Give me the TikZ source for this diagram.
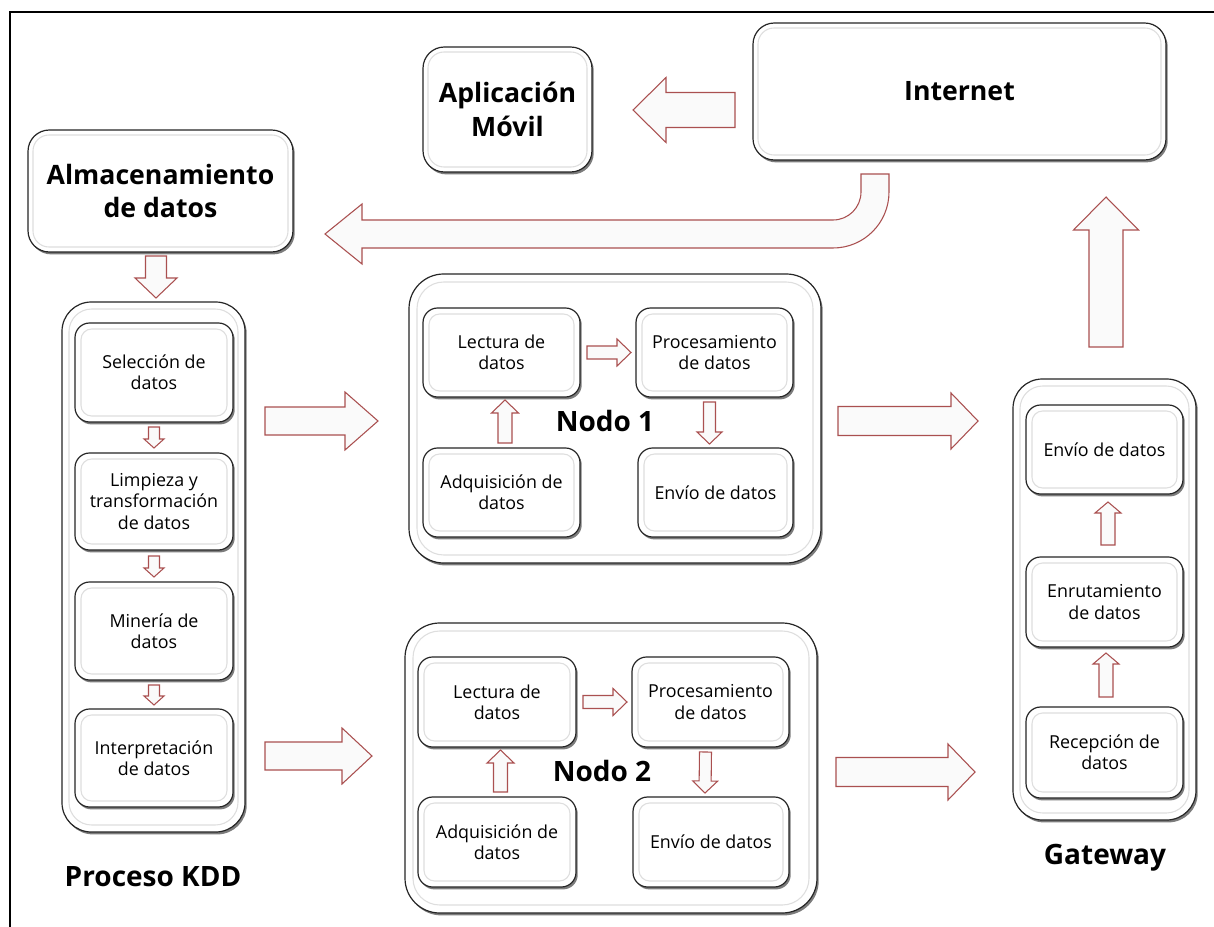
\documentclass[tikz,border=0pt]{standalone}
\usepackage{fontspec}
\setmainfont{Open Sans}
\usetikzlibrary{calc,shadows}
\definecolor{arrred}{RGB}{170,80,80}
\tikzset{
  bx/.style={draw=black!85, line width=0.9pt, fill=white, rounded corners=#1,
    inner sep=0pt, outer sep=0pt, align=center,
    drop shadow={shadow xshift=1.3pt, shadow yshift=-1.8pt, fill=black!60, opacity=0.85}},
  bx/.default=11pt,
  txt/.style={font=\fontsize{13.4}{16}\selectfont},
  ttl/.style={font=\bfseries\fontsize{20}{25}\selectfont},
  lbl/.style={font=\bfseries\fontsize{21}{25}\selectfont, inner sep=0pt},
  blk/.style={draw=arrred, line width=0.8pt, fill=black!2, line join=miter},
  inl/.style={draw=black!13, line width=0.8pt},
  frame/.style={draw=black, line width=1.5pt}
}
% box: [style]{name}{x1}{y1}{x2}{y2}{text}
\newcommand{\bx}[7][]{\node[#1, minimum width={(#5-#3)*0.75pt}, minimum height={(#6-#4)*0.75pt}] (#2) at ({(#3+#5)/2},{(#4+#6)/2}) {#7};}
% inner light line: {name}{inset}{radius}
\newcommand{\inline}[3]{\draw[inl, rounded corners=#3] ($(#1.north west)+(#2,#2)$) rectangle ($(#1.south east)+(-#2,-#2)$);}
% block arrow: {from}{to}{shaft half}{head half}{head length}
\newcommand{\barr}[5]{%
  \path let \p1=#1, \p2=#2 in \pgfextra{%
    \pgfmathsetmacro\bang{atan2(\y2-\y1,\x2-\x1)}%
    \pgfmathsetmacro\blen{veclen(\x2-\x1,\y2-\y1)}%
    \global\let\gbang\bang\global\let\gblen\blen};
  \draw[blk, shift={#1}, rotate=\gbang]
    (0pt,{-0.75pt*#3}) -- ({\gblen pt-0.75pt*#5},{-0.75pt*#3}) -- ({\gblen pt-0.75pt*#5},{-0.75pt*#4})
    -- ({\gblen pt},0pt) -- ({\gblen pt-0.75pt*#5},{0.75pt*#4}) -- ({\gblen pt-0.75pt*#5},{0.75pt*#3})
    -- (0pt,{0.75pt*#3}) -- cycle;}
\begin{document}
\begin{tikzpicture}[x=0.75pt,y=-0.75pt]
\useasboundingbox (0,0) rectangle (1214,927);
\fill[white] (0,0) rectangle (1214,927);
\draw[frame] (10,927) -- (10,12) -- (1214,12);

% top row
\bx[bx=16pt,ttl]{app}{423}{47}{592}{172}{Aplicación\\Móvil}
\inline{app}{5}{12pt}
\bx[bx=16pt,ttl]{inet}{753}{23}{1166}{160}{Internet}
\inline{inet}{5}{12pt}
\bx[bx=16pt,ttl]{alm}{28}{130}{293}{252}{Almacenamiento\\de datos}
\inline{alm}{5}{12pt}

% KDD
\bx[bx=22pt]{kdd}{62}{302}{245}{832}{}
\inline{kdd}{7}{17pt}
\bx[bx,txt]{sel}{75}{323}{233}{422}{Selección de\\datos}
\bx[bx,txt]{limp}{75}{453}{233}{550}{Limpieza y\\transformación\\de datos}
\bx[bx,txt]{min}{75}{582}{233}{680}{Minería de\\datos}
\bx[bx,txt]{interp}{75}{709}{233}{807}{Interpretación\\de datos}
\foreach \n in {sel,limp,min,interp}{\inline{\n}{6}{8pt}}
\node[lbl] (kddl) at (153,877) {Proceso KDD};

% Nodo 1
\bx[bx=26pt]{n1}{409}{274}{821}{563}{}
\inline{n1}{8}{20pt}
\bx[bx,txt]{la}{423}{308}{580}{397}{Lectura de\\datos}
\bx[bx,txt]{pa}{636}{308}{793}{397}{Procesamiento\\de datos}
\bx[bx,txt]{aa}{423}{448}{580}{537}{Adquisición de\\datos}
\bx[bx,txt]{ea}{638}{448}{793}{537}{Envío de datos}
\foreach \n in {la,pa,aa,ea}{\inline{\n}{6}{8pt}}
\node[lbl] (n1l) at (605,421) {Nodo 1};

% Nodo 2
\bx[bx=26pt]{n2}{405}{623}{817}{913}{}
\inline{n2}{8}{20pt}
\bx[bx,txt]{lb}{418}{657}{576}{747}{Lectura de\\datos}
\bx[bx,txt]{pb}{632}{657}{789}{747}{Procesamiento\\de datos}
\bx[bx,txt]{ab}{418}{797}{576}{887}{Adquisición de\\datos}
\bx[bx,txt]{eb}{633}{797}{789}{887}{Envío de datos}
\foreach \n in {lb,pb,ab,eb}{\inline{\n}{6}{8pt}}
\node[lbl] (n2l) at (602,771) {Nodo 2};

% Gateway
\bx[bx=22pt]{gw}{1013}{379}{1196}{820}{}
\inline{gw}{7}{17pt}
\bx[bx,txt]{ge}{1026}{405}{1183}{494}{Envío de datos}
\bx[bx,txt]{gr}{1026}{557}{1183}{647}{Enrutamiento\\de datos}
\bx[bx,txt]{gc}{1026}{707}{1183}{798}{Recepción de\\datos}
\foreach \n in {ge,gr,gc}{\inline{\n}{6}{8pt}}
\node[lbl] (gwl) at (1105,858) {Gateway};

% arrows: top
\barr{($(inet.west)+(-18,18.5)$)}{($(app.east)+(41,0.5)$)}{17.5}{32.5}{33}
\barr{($(alm.south)+(-4.5,4)$)}{($(kdd.north)+(2.5,-4)$)}{10.5}{21}{20}
\barr{($(gw.north)+(1.5,-32)$)}{($(inet.south)+(146.5,37)$)}{17}{32.5}{33}
% curved arrow Internet -> Almacenamiento
\draw[blk] (861,174) -- (861,192) arc[start angle=0,end angle=90,radius=28]
  -- (362,220) -- (362,204) -- (325,234) -- (362,264) -- (362,248) -- (833,248)
  arc[start angle=90,end angle=0,radius=56] -- (889,174) -- cycle;

% KDD inner
\barr{($(sel.south)+(0,5)$)}{($(limp.north)+(0,-5)$)}{5.5}{10}{9}
\barr{($(limp.south)+(0,6)$)}{($(min.north)+(0,-5)$)}{5.5}{10}{9}
\barr{($(min.south)+(0,5)$)}{($(interp.north)+(0,-4)$)}{5.5}{10}{9}

% KDD -> nodes
\barr{(265,421)}{(378,421)}{14}{29}{33}
\barr{(265,756)}{(372,756)}{14}{28}{30}

% Nodo 1 inner
\barr{($(la.east)+(7,0)$)}{($(pa.west)+(-5,0)$)}{6.5}{13.5}{14}
\barr{($(aa.north)+(3.5,-5)$)}{($(la.south)+(3.5,3)$)}{7}{13.5}{13}
\barr{($(pa.south)+(-5,5)$)}{($(ea.north)+(-6,-4)$)}{6}{12.5}{12}
% Nodo 2 inner
\barr{($(lb.east)+(7,0)$)}{($(pb.west)+(-5,0)$)}{6.5}{13.5}{14}
\barr{($(ab.north)+(3.5,-5)$)}{($(lb.south)+(3.5,3)$)}{7}{13.5}{13}
\barr{($(pb.south)+(-5,5)$)}{($(eb.north)+(-6,-4)$)}{6}{12.5}{12}

% nodes -> gateway
\barr{(838,421)}{(978,421)}{14.5}{28}{27}
\barr{(836,772)}{(975,772)}{14.5}{28}{27}

% gateway inner
\barr{($(gr.north)+(3.5,-12)$)}{($(ge.south)+(3.5,8)$)}{7}{13}{11}
\barr{($(gc.north)+(1.5,-10)$)}{($(gr.south)+(1.5,6)$)}{7}{13}{11}
\end{tikzpicture}
\end{document}
